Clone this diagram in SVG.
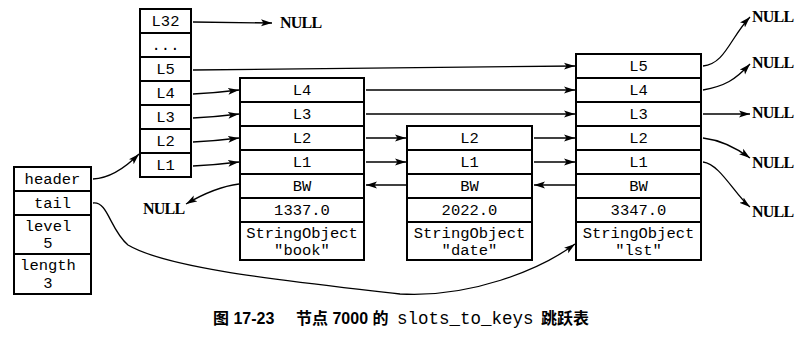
<svg xmlns="http://www.w3.org/2000/svg" width="808" height="339" viewBox="0 0 808 339">
<defs>
<marker id="ah" markerUnits="userSpaceOnUse" markerWidth="12" markerHeight="8" refX="11" refY="4" orient="auto">
<path d="M0,0.5 L11,4 L0,7.5 L2.5,4 Z" fill="#000"/>
</marker>
<style>
.box{fill:#fff;stroke:#000;stroke-width:2}
.m{font-family:"Liberation Mono","DejaVu Sans Mono",monospace;font-size:15.5px;text-anchor:middle;fill:#000}
.n{font-family:"Liberation Serif","Times New Roman",serif;font-size:16px;font-weight:bold;fill:#000;letter-spacing:-0.8px}
.c{fill:none;stroke:#000;stroke-width:1.3;marker-end:url(#ah)}
.cap{font-family:"Liberation Sans","Noto Sans CJK SC",sans-serif;font-size:16px;font-weight:bold;fill:#000}
.capm{font-family:"Liberation Mono",monospace;font-size:17.5px;fill:#000}
</style>
</defs>
<rect width="808" height="339" fill="#fff"/>

<g id="list">
<rect class="box" x="14" y="167" width="77" height="24"/>
<rect class="box" x="14" y="191" width="77" height="24"/>
<rect class="box" x="14" y="215" width="77" height="39"/>
<rect class="box" x="14" y="254" width="77" height="40"/>
<text class="m" x="52.5" y="184">header</text>
<text class="m" x="52.5" y="208">tail</text>
<text class="m" x="48" y="231">level</text>
<text class="m" x="48" y="248">5</text>
<text class="m" x="48" y="270">length</text>
<text class="m" x="48" y="288">3</text>
</g>

<g id="levels">
<rect class="box" x="140" y="9" width="51" height="24"/>
<rect class="box" x="140" y="33" width="51" height="24"/>
<rect class="box" x="140" y="57" width="51" height="24"/>
<rect class="box" x="140" y="81" width="51" height="24"/>
<rect class="box" x="140" y="105" width="51" height="24"/>
<rect class="box" x="140" y="129" width="51" height="24"/>
<rect class="box" x="140" y="153" width="51" height="24"/>
<text class="m" x="165.5" y="26">L32</text>
<text class="m" x="165.5" y="50">...</text>
<text class="m" x="165.5" y="74">L5</text>
<text class="m" x="165.5" y="98">L4</text>
<text class="m" x="165.5" y="122">L3</text>
<text class="m" x="165.5" y="146">L2</text>
<text class="m" x="165.5" y="170">L1</text>
</g>

<g id="node1">
<rect class="box" x="240" y="78" width="124" height="24"/>
<rect class="box" x="240" y="102" width="124" height="24"/>
<rect class="box" x="240" y="126" width="124" height="24"/>
<rect class="box" x="240" y="150" width="124" height="24"/>
<rect class="box" x="240" y="174" width="124" height="24"/>
<rect class="box" x="240" y="198" width="124" height="24"/>
<rect class="box" x="240" y="222" width="124" height="38"/>
<text class="m" x="302" y="95">L4</text>
<text class="m" x="302" y="119">L3</text>
<text class="m" x="302" y="143">L2</text>
<text class="m" x="302" y="167">L1</text>
<text class="m" x="302" y="191">BW</text>
<text class="m" x="302" y="215">1337.0</text>
<text class="m" x="302" y="238">StringObject</text>
<text class="m" x="302" y="255">"book"</text>
</g>

<g id="node2">
<rect class="box" x="407" y="126" width="125" height="24"/>
<rect class="box" x="407" y="150" width="125" height="24"/>
<rect class="box" x="407" y="174" width="125" height="24"/>
<rect class="box" x="407" y="198" width="125" height="24"/>
<rect class="box" x="407" y="222" width="125" height="38"/>
<text class="m" x="469.5" y="143">L2</text>
<text class="m" x="469.5" y="167">L1</text>
<text class="m" x="469.5" y="191">BW</text>
<text class="m" x="469.5" y="215">2022.0</text>
<text class="m" x="469.5" y="238">StringObject</text>
<text class="m" x="469.5" y="255">"date"</text>
</g>

<g id="node3">
<rect class="box" x="576" y="54" width="125" height="24"/>
<rect class="box" x="576" y="78" width="125" height="24"/>
<rect class="box" x="576" y="102" width="125" height="24"/>
<rect class="box" x="576" y="126" width="125" height="24"/>
<rect class="box" x="576" y="150" width="125" height="24"/>
<rect class="box" x="576" y="174" width="125" height="24"/>
<rect class="box" x="576" y="198" width="125" height="24"/>
<rect class="box" x="576" y="222" width="125" height="38"/>
<text class="m" x="638.5" y="71">L5</text>
<text class="m" x="638.5" y="95">L4</text>
<text class="m" x="638.5" y="119">L3</text>
<text class="m" x="638.5" y="143">L2</text>
<text class="m" x="638.5" y="167">L1</text>
<text class="m" x="638.5" y="191">BW</text>
<text class="m" x="638.5" y="215">3347.0</text>
<text class="m" x="638.5" y="238">StringObject</text>
<text class="m" x="638.5" y="255">"lst"</text>
</g>

<g id="nulls">
<text class="n" x="280" y="28">NULL</text>
<text class="n" x="143" y="214">NULL</text>
<text class="n" x="752" y="22">NULL</text>
<text class="n" x="752" y="68">NULL</text>
<text class="n" x="752" y="118">NULL</text>
<text class="n" x="752" y="168">NULL</text>
<text class="n" x="752" y="217">NULL</text>
</g>

<g id="connectors">
<path class="c" d="M193,22 L272,23"/>
<path class="c" d="M193,70 L575,66"/>
<path class="c" d="M193,94 Q215,93 239,90"/>
<path class="c" d="M193,118 Q215,117 239,114"/>
<path class="c" d="M193,142 Q215,141 239,138"/>
<path class="c" d="M193,166 Q215,165 239,162"/>
<path class="c" d="M366,90 L575,90"/>
<path class="c" d="M366,114 L575,114"/>
<path class="c" d="M366,138 L406,138"/>
<path class="c" d="M366,162 L406,162"/>
<path class="c" d="M534,138 L575,138"/>
<path class="c" d="M534,162 L575,162"/>
<path class="c" d="M406,185 L366,185"/>
<path class="c" d="M575,185 L534,185"/>
<path class="c" d="M239,184 Q215,187 186,204"/>
<path class="c" d="M93,179 Q115,178 139,154"/>
<path class="c" d="M93,203 C108,201 110,230 128,245 C170,270 300,282 400,294 C470,298 540,270 575,244"/>
<path class="c" d="M703,66 C725,64 730,38 750,17"/>
<path class="c" d="M703,90 C725,86 735,80 750,64"/>
<path class="c" d="M703,114 L750,114"/>
<path class="c" d="M703,138 C720,140 735,147 750,158"/>
<path class="c" d="M703,162 C720,164 735,195 750,207"/>
</g>

<g id="caption">
<text class="cap" x="213" y="324">图 17-23</text>
<text class="cap" x="296" y="324">节点 7000 的</text>
<text class="capm" x="397" y="324">slots_to_keys</text>
<text class="cap" x="541" y="324">跳跃表</text>
</g>
</svg>
